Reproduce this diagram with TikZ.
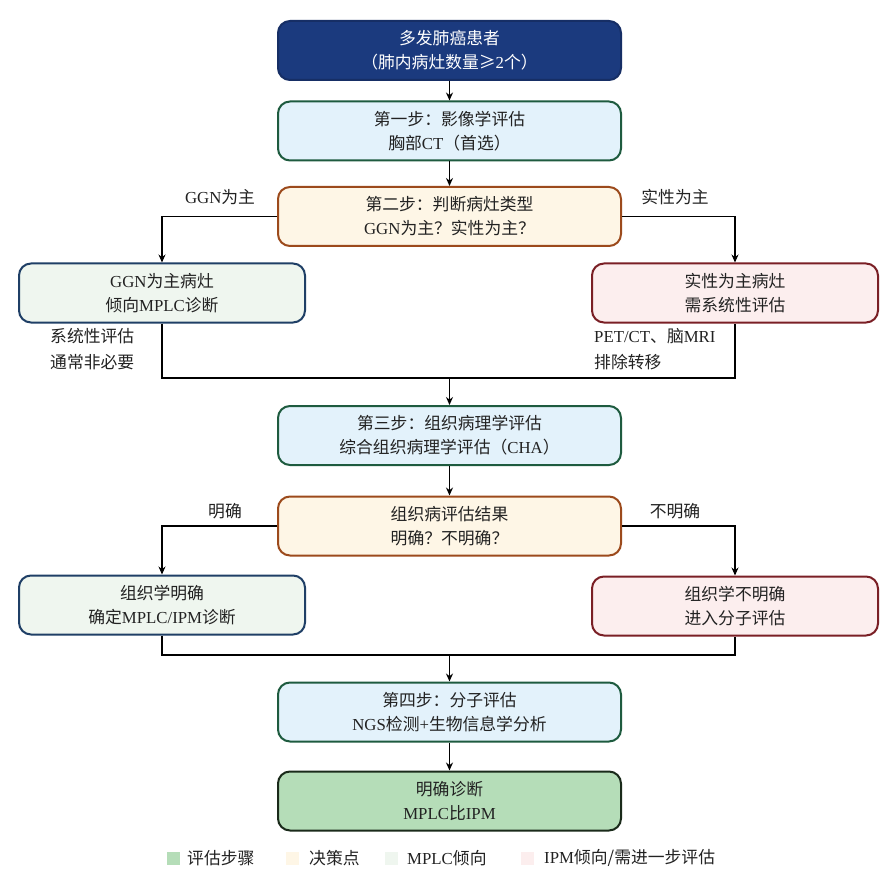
\documentclass[tikz,border=0pt]{standalone}
\usepackage{fontspec}
\setmainfont{Liberation Serif}
\newfontfamily\cjk{Noto Sans CJK SC}
\newcommand{\z}[1]{{\cjk #1}}
\usetikzlibrary{arrows.meta}
\definecolor{topfill}{HTML}{1B3A7E}
\definecolor{stepfill}{HTML}{E3F2FB}
\definecolor{stepdraw}{HTML}{1E5B3F}
\definecolor{decfill}{HTML}{FEF6E6}
\definecolor{decdraw}{HTML}{9C4A1C}
\definecolor{mplcfill}{HTML}{EFF6EF}
\definecolor{mplcdraw}{HTML}{1F3F66}
\definecolor{ipmfill}{HTML}{FCEEEE}
\definecolor{ipmdraw}{HTML}{7A1F25}
\definecolor{finfill}{HTML}{B5DDB8}
\definecolor{findraw}{HTML}{1A2A1A}
\definecolor{txt}{HTML}{222222}
\tikzset{
  box/.style={rectangle, rounded corners=12pt, line width=2pt, align=center,
    font=\fontsize{16.8}{24}\selectfont, text=txt, inner sep=0pt},
  wide/.style={box, minimum width=343pt, minimum height=59pt},
  side/.style={box, minimum width=286pt, minimum height=59pt},
  topbox/.style={wide, fill=topfill, draw=topfill!80!black, text=white},
  stepbox/.style={wide, fill=stepfill, draw=stepdraw},
  decbox/.style={wide, fill=decfill, draw=decdraw},
  mplcbox/.style={side, fill=mplcfill, draw=mplcdraw},
  ipmbox/.style={side, fill=ipmfill, draw=ipmdraw},
  finbox/.style={wide, fill=finfill, draw=findraw},
  arr/.style={line width=1.4pt, draw=black, -{Stealth[length=8pt,width=7pt]}},
  ln/.style={line width=1.4pt, draw=black},
  lbl/.style={font=\fontsize{16.8}{24}\selectfont, text=txt, inner sep=0pt},
  note/.style={lbl, align=left, anchor=west, font=\fontsize{16.8}{26}\selectfont},
  legsq/.style={rectangle, minimum width=13pt, minimum height=13pt, inner sep=0pt},
}
\begin{document}
\begin{tikzpicture}[x=1pt, y=-1pt]
\useasboundingbox[fill=white] (0,0) rectangle (891,877);

\node[topbox] (top) at (449.5,50.5) {\z{多发肺癌患者}\\\z{（肺内病灶数量≥}2\z{个）}};
\node[stepbox] (s1) at (449.5,131) {\z{第一步：影像学评估}\\\z{胸部}CT\z{（首选）}};
\node[decbox] (d1) at (449.5,216.5) {\z{第二步：判断病灶类型}\\GGN\z{为主？实性为主？}};
\node[mplcbox] (g1) at (162,293) {GGN\z{为主病灶}\\\z{倾向}MPLC\z{诊断}};
\node[ipmbox] (p1) at (735,293) {\z{实性为主病灶}\\\z{需系统性评估}};
\node[stepbox] (s3) at (449.5,435.5) {\z{第三步：组织病理学评估}\\\z{综合组织病理学评估（}CHA\z{）}};
\node[decbox] (d2) at (449.5,526) {\z{组织病评估结果}\\\z{明确？不明确？}};
\node[mplcbox] (g2) at (162,605) {\z{组织学明确}\\\z{确定}MPLC/IPM\z{诊断}};
\node[ipmbox] (p2) at (735,606) {\z{组织学不明确}\\\z{进入分子评估}};
\node[stepbox] (s4) at (449.5,712) {\z{第四步：分子评估}\\NGS\z{检测}+\z{生物信息学分析}};
\node[finbox] (fin) at (449.5,801) {\z{明确诊断}\\MPLC\z{比}IPM};

\node[lbl] (l1) at (220,197) {GGN\z{为主}};
\node[lbl] (r1) at (675,197) {\z{实性为主}};
\node[lbl] (l2) at (225,511) {\z{明确}};
\node[lbl] (r2) at (675,511) {\z{不明确}};
\node[note] (n1) at (50,349) {\z{系统性评估}\\\z{通常非必要}};
\node[note] (n2) at (594,349) {PET/CT\z{、脑}MRI\\\z{排除转移}};

\coordinate (m1) at (449.5,378);
\coordinate (m2) at (449.5,655);

\draw[arr] (top) -- (s1);
\draw[arr] (s1) -- (d1);
\draw[arr] (d1.west) -| (g1.north);
\draw[arr] (d1.east) -| (p1.north);
\draw[ln] (g1.south) |- (m1) -| (p1.south);
\draw[arr] (m1) -- (s3);
\draw[arr] (s3) -- (d2);
\draw[arr] (d2.west) -| (g2.north);
\draw[arr] (d2.east) -| (p2.north);
\draw[ln] (g2.south) |- (m2) -| (p2.south);
\draw[arr] (m2) -- (s4);
\draw[arr] (s4) -- (fin);

\node[legsq, fill=finfill] (k1) at (173.5,858) {};
\node[lbl, anchor=west] (t1) at (187,858) {\z{评估步骤}};
\node[legsq, fill=decfill] (k2) at (292.5,858) {};
\node[lbl, anchor=west] (t2) at (309,858) {\z{决策点}};
\node[legsq, fill=mplcfill] (k3) at (391.5,858) {};
\node[lbl, anchor=west] (t3) at (407,858) {MPLC\z{倾向}};
\node[legsq, fill=ipmfill] (k4) at (527.5,858) {};
\node[lbl, anchor=west] (t4) at (544,858) {IPM\z{倾向/需进一步评估}};
\end{tikzpicture}
\end{document}
